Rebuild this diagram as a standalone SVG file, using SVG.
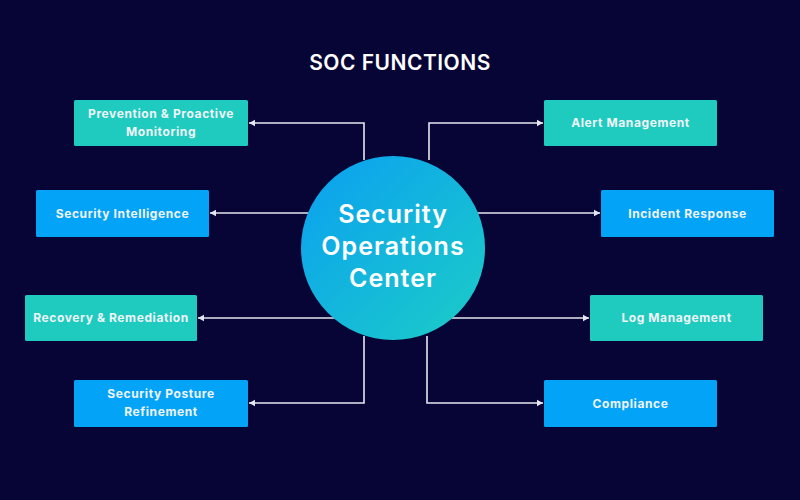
<svg xmlns="http://www.w3.org/2000/svg" width="800" height="500" viewBox="0 0 800 500">
<defs>
<linearGradient id="cg" x1="0" y1="0" x2="1" y2="1">
<stop offset="0" stop-color="#0a9ff2"/>
<stop offset="1" stop-color="#1ccdc6"/>
</linearGradient>
<marker id="ah" markerWidth="8" markerHeight="8" refX="6" refY="4" orient="auto" markerUnits="userSpaceOnUse">
<path d="M0,0.8 L6,4 L0,7.2 Z" fill="#e6e6f2"/>
</marker>
<style>
.teal{fill:#1ecbbe}
.blue{fill:#03a4f8}
.lbl{font-family:Inter,"Noto Sans","Liberation Sans",sans-serif;font-size:12px;font-weight:700;fill:#f0f4f8;text-anchor:middle;letter-spacing:0.6px}
.con{fill:none;stroke:#e6e6f2;stroke-width:1.6;marker-end:url(#ah)}
.title{font-family:Inter,"Noto Sans","Liberation Sans",sans-serif;font-size:21px;font-weight:600;fill:#ffffff;text-anchor:middle;letter-spacing:0.5px}
.ctext{font-family:Inter,"Noto Sans","Liberation Sans",sans-serif;font-size:25px;font-weight:600;fill:#ffffff;text-anchor:middle;letter-spacing:1px}
</style>
</defs>
<rect width="800" height="500" fill="#070535"/>
<text class="title" x="400" y="70">SOC FUNCTIONS</text>
<g id="connectors">
<path class="con" d="M364,160 V123 H249"/>
<path class="con" d="M310,213 H210"/>
<path class="con" d="M336,318 H198"/>
<path class="con" d="M364,336 V403 H249"/>
<path class="con" d="M429,160 V123 H543"/>
<path class="con" d="M476,213 H600"/>
<path class="con" d="M452,318 H589"/>
<path class="con" d="M427,336 V403 H543"/>
</g>
<g id="center">
<circle cx="393" cy="248" r="92" fill="url(#cg)"/>
<text class="ctext" x="393" y="223">Security</text>
<text class="ctext" x="393" y="255">Operations</text>
<text class="ctext" x="393" y="287">Center</text>
</g>
<g id="prevention">
<rect class="teal" x="74" y="100" width="174" height="46" rx="1.5"/>
<text class="lbl" x="161" y="118">Prevention &amp; Proactive</text>
<text class="lbl" x="161" y="136">Monitoring</text>
</g>
<g id="intelligence">
<rect class="blue" x="36" y="190" width="173" height="47" rx="1.5"/>
<text class="lbl" x="122.5" y="218">Security Intelligence</text>
</g>
<g id="recovery">
<rect class="teal" x="25" y="295" width="172" height="46" rx="1.5"/>
<text class="lbl" x="111" y="322">Recovery &amp; Remediation</text>
</g>
<g id="posture">
<rect class="blue" x="74" y="380" width="174" height="47" rx="1.5"/>
<text class="lbl" x="161" y="398">Security Posture</text>
<text class="lbl" x="161" y="416">Refinement</text>
</g>
<g id="alert">
<rect class="teal" x="544" y="100" width="173" height="46" rx="1.5"/>
<text class="lbl" x="630.5" y="127">Alert Management</text>
</g>
<g id="incident">
<rect class="blue" x="601" y="190" width="173" height="47" rx="1.5"/>
<text class="lbl" x="687.5" y="218">Incident Response</text>
</g>
<g id="log">
<rect class="teal" x="590" y="295" width="173" height="46" rx="1.5"/>
<text class="lbl" x="676.5" y="322">Log Management</text>
</g>
<g id="compliance">
<rect class="blue" x="544" y="380" width="173" height="47" rx="1.5"/>
<text class="lbl" x="630.5" y="408">Compliance</text>
</g>
</svg>
